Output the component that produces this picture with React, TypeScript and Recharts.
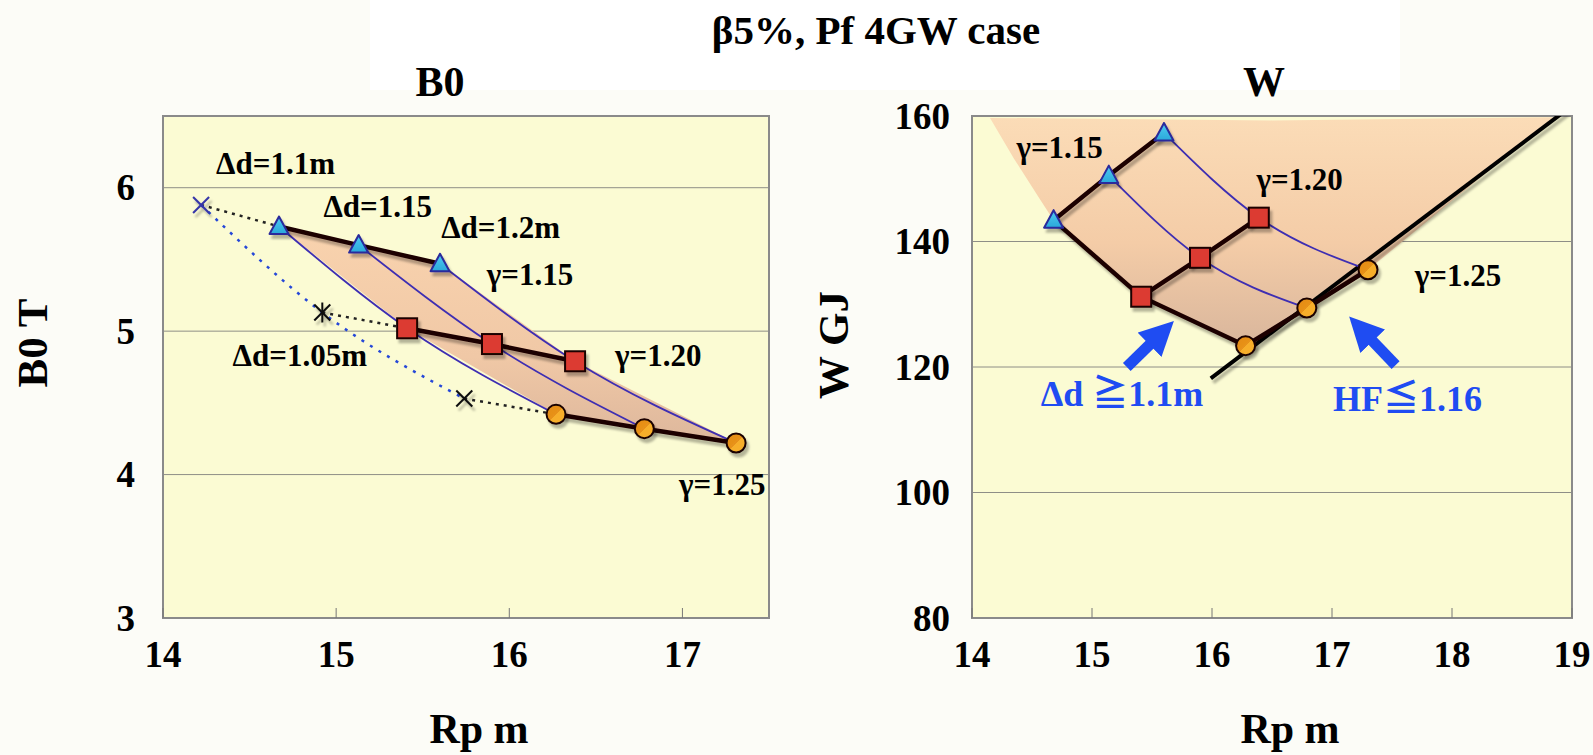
import React from 'react';
import { ComposedChart, XAxis, YAxis, CartesianGrid, Line, Area, Scatter, ReferenceArea } from 'recharts';

type P = { x: number; y: number };
type T = { x: number; y: number; text: string };

// ===== Left panel: B0 [T] vs Rp [m] =====
const b0XTicks = [14, 15, 16, 17];
const b0YTicks = [3, 4, 5, 6];
const b0Gamma115: P[] = [{ x: 14.67, y: 5.73 }, { x: 15.13, y: 5.6 }, { x: 15.6, y: 5.47 }];
const b0Gamma120: P[] = [{ x: 15.41, y: 5.02 }, { x: 15.9, y: 4.91 }, { x: 16.38, y: 4.79 }];
const b0Gamma125: P[] = [{ x: 16.27, y: 4.42 }, { x: 16.78, y: 4.32 }, { x: 17.31, y: 4.22 }];
const b0Dd105: P[] = [{ x: 14.22, y: 5.88 }, { x: 14.92, y: 5.13 }, { x: 15.74, y: 4.53 }];
const b0Labels: T[] = [
  { x: 14.65, y: 6.165, text: 'Δd=1.1m' },
  { x: 15.24, y: 5.87, text: 'Δd=1.15' },
  { x: 15.95, y: 5.72, text: 'Δd=1.2m' },
  { x: 16.12, y: 5.39, text: 'γ=1.15' },
  { x: 14.79, y: 4.83, text: 'Δd=1.05m' },
  { x: 16.86, y: 4.83, text: 'γ=1.20' },
  { x: 17.23, y: 3.93, text: 'γ=1.25' },
];

// ===== Right panel: W [GJ] vs Rp [m] =====
const wXTicks = [14, 15, 16, 17, 18, 19];
const wYTicks = [80, 100, 120, 140, 160];
const wGamma115: P[] = [{ x: 14.68, y: 143.4 }, { x: 15.14, y: 150.5 }, { x: 15.6, y: 157.3 }];
const wGamma120: P[] = [{ x: 15.41, y: 131.2 }, { x: 15.9, y: 137.4 }, { x: 16.39, y: 143.8 }];
const wGamma125: P[] = [{ x: 16.28, y: 123.4 }, { x: 16.79, y: 129.4 }, { x: 17.3, y: 135.5 }];
const wHF: P[] = [{ x: 15.99, y: 118.2 }, { x: 18.99, y: 161.5 }];
const wRegionLeftEdge: P[] = [{ x: 14.15, y: 159.7 }, { x: 14.35, y: 153.2 }, { x: 14.57, y: 146.6 }];
const wRegionTopEdge: P[] = [{ x: 18.85, y: 159.8 }, { x: 16.5, y: 159.3 }];
const wLabels: T[] = [
  { x: 14.73, y: 155.0, text: 'γ=1.15' },
  { x: 16.73, y: 149.9, text: 'γ=1.20' },
  { x: 18.05, y: 134.6, text: 'γ=1.25' },
];
const wNotes: T[] = [
  { x: 15.25, y: 115.6, text: 'Δd ≧1.1m' },
  { x: 17.63, y: 114.9, text: 'HF≦1.16' },
];
const wArrowDd: P[] = [{ x: 15.29, y: 120.0 }, { x: 15.52, y: 124.3 }];
const wArrowHF: P[] = [{ x: 17.53, y: 120.3 }, { x: 17.3, y: 124.9 }];

// ===== derived series =====
const b0DdLines = [0, 1, 2].map((i) => [b0Gamma115[i], b0Gamma120[i], b0Gamma125[i]]);
const b0Region = [...b0Gamma115, b0Gamma120[2], b0Gamma125[2], b0Gamma125[1], b0Gamma125[0], b0Gamma120[0], b0Gamma115[0]];
const b0Links = [
  [b0Dd105[0], b0Gamma115[0]],
  [b0Dd105[1], b0Gamma120[0]],
  [b0Dd105[2], b0Gamma125[0]],
];
const wDd110 = [wGamma115[0], wGamma120[0], wGamma125[0]];
const wThinLines = [1, 2].map((i) => [wGamma115[i], wGamma120[i], wGamma125[i]]);
const wRegion = [...wRegionLeftEdge, wGamma115[0], wGamma120[0], ...wGamma125, ...wRegionTopEdge, wRegionLeftEdge[0]];

const FONT = '"Liberation Serif", "Times New Roman", "Noto Sans CJK JP", serif';
const BLUE = '#1F4CF2';

const thick = { type: 'linear' as const, stroke: '#1E0500', strokeWidth: 4.5, dot: false, activeDot: false, isAnimationActive: false, filter: 'url(#sh)' };
const thin = { type: 'monotone' as const, stroke: '#3E2EB2', strokeWidth: 1.8, dot: false, activeDot: false, isAnimationActive: false };

const Tri = (p: any) => (
  <polygon
    points={`${p.cx},${p.cy - 10} ${p.cx - 9.5},${p.cy + 7.5} ${p.cx + 9.5},${p.cy + 7.5}`}
    fill="url(#triFill)" stroke="#2A2A9C" strokeWidth={2} strokeLinejoin="round" filter="url(#sh)"
  />
);
const Sq = (p: any) => (
  <rect x={p.cx - 10} y={p.cy - 10} width={20} height={20} fill="#DC3A30" stroke="#1A0500" strokeWidth={2} filter="url(#sh)" />
);
const Circ = (p: any) => (
  <circle cx={p.cx} cy={p.cy} r={9.5} fill="url(#circFill)" stroke="#1A0500" strokeWidth={2} filter="url(#sh)" />
);
const cross = (color: string, star: boolean) => (p: any) => (
  <g stroke={color} strokeWidth={2} filter="url(#sh)">
    <line x1={p.cx - 8} y1={p.cy - 8} x2={p.cx + 8} y2={p.cy + 8} />
    <line x1={p.cx - 8} y1={p.cy + 8} x2={p.cx + 8} y2={p.cy - 8} />
    {star ? <line x1={p.cx} y1={p.cy - 10} x2={p.cx} y2={p.cy + 10} /> : null}
  </g>
);
const textMark = (color: string, size: number) => (p: any) => (
  <text x={p.cx} y={p.cy} dy="0.33em" textAnchor="middle" fontFamily={FONT} fontWeight="bold" fontSize={size} fill={color}>
    {p.payload.text}
  </text>
);
const XTick = (p: any) => (
  <text x={p.x} y={p.y} dy="0.71em" textAnchor="middle" fontFamily={FONT} fontWeight="bold" fontSize={37} fill="#000">
    {p.payload.value}
  </text>
);
const YTick = (p: any) => (
  <text x={p.x} y={p.y} dy="0.34em" textAnchor="end" fontFamily={FONT} fontWeight="bold" fontSize={37} fill="#000">
    {p.payload.value}
  </text>
);

function LeftChart() {
  return (
    <ComposedChart width={800} height={755} margin={{ top: 116, right: 31, bottom: 77, left: 83 }}>
      <CartesianGrid horizontal vertical={false} stroke="#8E8E86" strokeWidth={1} fill="#FBFBD3" fillOpacity={1} />
      <XAxis type="number" dataKey="x" domain={[14, 17.5]} ticks={b0XTicks} allowDataOverflow height={60}
        tickSize={-10} tickMargin={33} axisLine={false} tickLine={{ stroke: '#777' }} tick={XTick} />
      <YAxis type="number" dataKey="y" domain={[3, 6.5]} ticks={b0YTicks} allowDataOverflow width={80}
        tickSize={0} tickMargin={28} axisLine={false} tickLine={false} tick={YTick} />
      <Area data={b0Region} dataKey="y" type="linear" baseValue={b0Region[0].y} stroke="none" fill="url(#b0Fill)" fillOpacity={1} isAnimationActive={false} />
      {b0Links.map((d, i) => (
        <Line key={'lk' + i} data={d} dataKey="y" type="linear" stroke="#222" strokeWidth={2.5} strokeDasharray="3 5" dot={false} activeDot={false} isAnimationActive={false} />
      ))}
      <Line data={b0Dd105} dataKey="y" type="monotone" stroke="#2547D8" strokeWidth={2.5} strokeDasharray="3 7" dot={false} activeDot={false} isAnimationActive={false} />
      {b0DdLines.map((d, i) => (
        <Line key={'dd' + i} data={d} dataKey="y" {...thin} />
      ))}
      <Line data={b0Gamma115} dataKey="y" {...thick} />
      <Line data={b0Gamma120} dataKey="y" {...thick} />
      <Line data={b0Gamma125} dataKey="y" {...thick} />
      <Scatter data={[b0Dd105[0]]} dataKey="y" shape={cross('#3535A8', false)} isAnimationActive={false} />
      <Scatter data={[b0Dd105[1]]} dataKey="y" shape={cross('#111', true)} isAnimationActive={false} />
      <Scatter data={[b0Dd105[2]]} dataKey="y" shape={cross('#111', false)} isAnimationActive={false} />
      <Scatter data={b0Gamma115} dataKey="y" shape={Tri} isAnimationActive={false} />
      <Scatter data={b0Gamma120} dataKey="y" shape={Sq} isAnimationActive={false} />
      <Scatter data={b0Gamma125} dataKey="y" shape={Circ} isAnimationActive={false} />
      <Scatter data={b0Labels} dataKey="y" shape={textMark('#000', 31)} isAnimationActive={false} />
      <ReferenceArea x1={14} x2={17.5} y1={3} y2={6.5} fill="none" stroke="#8A8A8A" strokeWidth={2} />
    </ComposedChart>
  );
}

function RightChart() {
  return (
    <ComposedChart width={793} height={755} margin={{ top: 116, right: 21, bottom: 77, left: 92 }}>
      <CartesianGrid horizontal vertical={false} stroke="#8E8E86" strokeWidth={1} fill="#FBFBD3" fillOpacity={1} />
      <XAxis type="number" dataKey="x" domain={[14, 19]} ticks={wXTicks} allowDataOverflow height={60}
        tickSize={-10} tickMargin={33} axisLine={false} tickLine={{ stroke: '#777' }} tick={XTick} />
      <YAxis type="number" dataKey="y" domain={[80, 160]} ticks={wYTicks} allowDataOverflow width={80}
        tickSize={0} tickMargin={22} axisLine={false} tickLine={false} tick={YTick} />
      <Area data={wRegion} dataKey="y" type="linear" baseValue={wRegion[0].y} stroke="none" fill="url(#wFill)" fillOpacity={1} isAnimationActive={false} />
      <Line data={wHF} dataKey="y" type="linear" stroke="#000" strokeWidth={4} dot={false} activeDot={false} isAnimationActive={false} filter="url(#sh)" />
      {wThinLines.map((d, i) => (
        <Line key={'th' + i} data={d} dataKey="y" {...thin} />
      ))}
      <Line data={wDd110} dataKey="y" {...thick} />
      <Line data={wGamma115} dataKey="y" {...thick} />
      <Line data={wGamma120} dataKey="y" {...thick} />
      <Line data={wGamma125} dataKey="y" {...thick} />
      <Scatter data={wGamma115} dataKey="y" shape={Tri} isAnimationActive={false} />
      <Scatter data={wGamma120} dataKey="y" shape={Sq} isAnimationActive={false} />
      <Scatter data={wGamma125} dataKey="y" shape={Circ} isAnimationActive={false} />
      <Scatter data={wLabels} dataKey="y" shape={textMark('#000', 31)} isAnimationActive={false} />
      <Scatter data={wNotes} dataKey="y" shape={textMark(BLUE, 36)} isAnimationActive={false} />
      <Line data={wArrowDd} dataKey="y" type="linear" stroke={BLUE} strokeWidth={11} dot={false} activeDot={false} isAnimationActive={false} markerEnd="url(#arrowHead)" />
      <Line data={wArrowHF} dataKey="y" type="linear" stroke={BLUE} strokeWidth={11} dot={false} activeDot={false} isAnimationActive={false} markerEnd="url(#arrowHead)" />
      <ReferenceArea x1={14} x2={19} y1={80} y2={160} fill="none" stroke="#8A8A8A" strokeWidth={2} />
    </ComposedChart>
  );
}

export default function App() {
  const txt = { fontFamily: FONT, fontWeight: 'bold' as const, fill: '#000', textAnchor: 'middle' as const };
  return (
    <div style={{ position: 'absolute', left: 0, top: 0, width: 1593, height: 755, background: '#FCFCF7', overflow: 'hidden' }}>
      <svg width={1593} height={755} style={{ position: 'absolute', left: 0, top: 0 }}>
        <defs>
          <linearGradient id="b0Fill" x1="0" y1="0" x2="0" y2="1">
            <stop offset="0" stopColor="#F9D3AE" />
            <stop offset="0.6" stopColor="#F0C8A6" />
            <stop offset="1" stopColor="#DDB79C" />
          </linearGradient>
          <linearGradient id="wFill" x1="0" y1="0" x2="0" y2="1">
            <stop offset="0" stopColor="#FBDCB7" />
            <stop offset="0.55" stopColor="#F4CCA7" />
            <stop offset="1" stopColor="#D9B69C" />
          </linearGradient>
          <linearGradient id="triFill" x1="0" y1="0" x2="0" y2="1">
            <stop offset="0" stopColor="#4FCBF2" />
            <stop offset="1" stopColor="#2AA8DA" />
          </linearGradient>
          <linearGradient id="circFill" x1="0" y1="0" x2="1" y2="1">
            <stop offset="0" stopColor="#E48A14" />
            <stop offset="0.5" stopColor="#E8921A" />
            <stop offset="0.5" stopColor="#F7AE2C" />
            <stop offset="1" stopColor="#F7AE2C" />
          </linearGradient>
          <filter id="sh" filterUnits="userSpaceOnUse" x="0" y="0" width="1600" height="800">
            <feDropShadow dx="2.5" dy="4" stdDeviation="1.3" floodColor="#000" floodOpacity="0.28" />
          </filter>
          <marker id="arrowHead" viewBox="0 0 10 10" refX="2" refY="5" markerWidth="3.1" markerHeight="3.2" orient="auto" markerUnits="strokeWidth">
            <path d="M0,0 L10,5 L0,10 z" fill={BLUE} />
          </marker>
        </defs>
        <rect x={370} y={0} width={1030} height={90} fill="#FFFFFF" />
      </svg>
      <div style={{ position: 'absolute', left: 0, top: 0 }}>
        <LeftChart />
      </div>
      <div style={{ position: 'absolute', left: 800, top: 0 }}>
        <RightChart />
      </div>
      <svg width={1593} height={755} style={{ position: 'absolute', left: 0, top: 0, pointerEvents: 'none' }}>
        <text x={876} y={44} fontSize={41} {...txt}>β5%, Pf 4GW case</text>
        <text x={440} y={96} fontSize={42} {...txt}>B0</text>
        <text x={1264} y={96} fontSize={42} {...txt}>W</text>
        <text x={479} y={743} fontSize={42} {...txt}>Rp m</text>
        <text x={1290} y={743} fontSize={42} {...txt}>Rp m</text>
        <text x={32} y={343} dy="0.35em" fontSize={43} transform="rotate(-90 32 343)" {...txt}>B0 T</text>
        <text x={833} y={345} dy="0.35em" fontSize={43} transform="rotate(-90 833 345)" {...txt}>W GJ</text>
      </svg>
    </div>
  );
}
